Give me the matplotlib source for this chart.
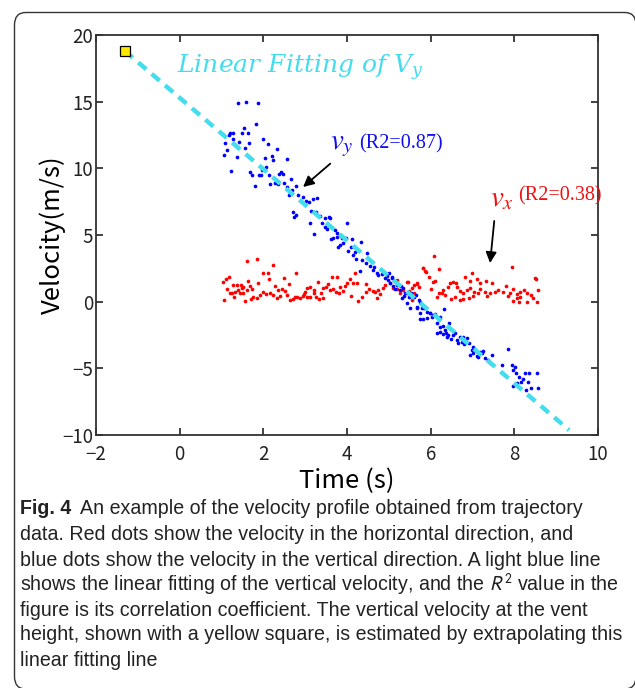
import matplotlib
matplotlib.use("Agg")
import matplotlib.pyplot as plt
from matplotlib.patches import FancyBboxPatch

# ---------------- data ----------------
vx_time = [1.04, 1.11, 1.17, 1.06, 1.20, 1.24, 1.28, 1.36, 1.46, 1.52, 1.40, 1.32, 1.44, 1.52, 1.60,
           1.72, 1.68, 1.56, 1.60, 1.84, 1.76, 1.70, 1.84, 1.92, 2.00, 2.06, 2.16, 2.24, 2.32, 2.40,
           2.36, 2.44, 2.52, 2.57, 2.64, 2.70, 2.76, 2.81, 2.88, 2.94, 3.04, 3.12, 3.00, 3.05, 3.12,
           3.20, 3.21, 3.26, 3.34, 3.42, 3.38, 3.43, 3.50, 3.55, 3.59, 3.67, 3.74, 3.82, 3.90, 3.95,
           4.01, 4.07, 4.15, 4.23, 4.27, 4.37, 4.45, 4.53, 4.61, 4.67, 4.71, 4.75, 4.85, 4.91, 5.03,
           5.11, 5.19, 5.27, 5.35, 5.43, 5.49, 5.59, 5.67, 5.71, 5.81, 2.24, 2.00, 2.10, 2.14, 2.78,
           2.50, 3.75, 3.65, 4.19, 1.14, 1.30, 1.48, 1.64, 1.88, 2.28, 2.62, 2.98, 3.30, 3.84, 4.10,
           4.46, 4.80, 5.20, 5.55, 6.08, 5.81, 5.90, 5.86, 6.21, 5.97, 6.06, 6.10, 5.47, 5.59, 5.55,
           5.67, 6.00, 6.21, 6.14, 6.26, 6.30, 6.35, 6.42, 6.46, 6.54, 6.61, 6.64, 6.70, 6.78, 6.88,
           6.94, 6.82, 6.98, 6.94, 7.10, 7.18, 7.32, 7.46, 7.04, 7.14, 7.18, 7.30, 7.35, 7.42, 7.54,
           6.49, 6.58, 6.70, 6.78, 6.92, 7.00, 7.72, 7.90, 7.98, 8.06, 8.14, 8.22, 8.30, 7.94, 8.49,
           8.57, 8.53, 8.44, 8.30, 8.14, 8.06, 7.86, 7.98, 8.12, 8.51, 7.62, 7.80, 8.40]
vx_vel = [1.47, 1.67, 1.87, 0.12, 0.62, 0.67, 1.22, 1.27, 1.27, 1.12, 0.87, 0.70, 0.62, 0.67, 0.87,
          0.97, 1.20, 0.02, 3.07, 3.22, 0.32, 0.17, 0.27, 0.50, 0.75, 0.57, 0.67, 0.50, 0.25, 0.42,
          0.87, 0.92, 0.82, 0.47, 0.12, 0.17, 0.32, 0.32, 0.25, 0.42, 0.32, 0.32, 0.75, 1.00, 1.12,
          0.87, 0.67, 0.37, 0.17, 0.25, 0.67, 1.00, 1.12, 1.32, 0.87, 0.92, 0.75, 0.62, 0.82, 1.17,
          1.37, 1.67, 1.37, 1.42, 0.07, 0.37, 0.75, 0.92, 0.82, 0.75, 0.25, 0.87, 1.00, 1.25, 1.42,
          1.00, 0.92, 0.67, 0.87, 1.50, 0.82, 0.67, 1.42, 1.12, 2.50, 2.75, 2.12, 2.12, 1.70, 2.12,
          1.75, 1.82, 1.82, 2.12, 0.95, 0.35, 1.05, 1.55, 1.40, 1.20, 1.35, 0.60, 1.45, 1.10, 0.45,
          1.30, 0.55, 1.60, 0.10, 3.42, 2.52, 2.25, 2.32, 2.47, 1.82, 1.47, 1.52, 1.50, 1.25, 1.00,
          1.32, 0.92, 0.67, 0.37, 0.62, 0.87, 0.47, 1.12, 1.42, 1.50, 1.37, 1.12, 0.82, 0.67, 0.87,
          1.00, 1.82, 2.17, 1.57, 1.67, 1.37, 1.52, 1.42, 0.75, 0.62, 0.92, 0.75, 0.42, 0.67, 0.75,
          0.17, 0.37, 0.12, 0.22, 0.25, 0.42, 0.75, 0.62, 0.92, 0.57, 0.75, 0.87, 0.67, 2.62, 1.75,
          0.87, 0.00, 0.25, 0.00, 0.37, 0.25, 0.42, 0.07, 0.00, 1.72, 0.90, 1.20, 0.50]

vy_time = [1.39, 1.59, 1.87, 1.82, 1.20, 1.27, 1.17, 1.53, 1.50, 1.63, 1.28, 1.09, 1.42, 1.66, 2.00,
           2.10, 1.12, 1.57, 2.33, 1.05, 1.36, 2.20, 2.03, 2.24, 2.57, 1.22, 2.06, 1.98, 1.68, 1.74,
           1.90, 1.95, 2.14, 2.43, 2.47, 2.38, 2.65, 1.79, 2.17, 2.29, 2.34, 2.50, 2.56, 2.78, 2.61,
           2.69, 2.84, 2.96, 3.02, 3.08, 3.18, 3.28, 2.70, 2.78, 2.73, 3.15, 3.25, 3.36, 3.47, 3.58,
           3.12, 3.40, 3.47, 3.51, 3.21, 3.61, 3.67, 3.77, 3.79, 3.75, 3.71, 3.59, 3.99, 3.87, 3.97,
           3.91, 3.84, 4.13, 4.33, 4.10, 4.02, 4.19, 4.15, 4.22, 4.49, 4.37, 4.45, 4.55, 4.65, 4.61,
           4.30, 4.71, 4.75, 4.83, 5.00, 4.91, 4.99, 5.07, 5.03, 5.11, 5.15, 5.29, 5.35, 5.27, 5.43,
           5.52, 5.49, 5.36, 5.31, 5.59, 5.65, 5.71, 5.75, 5.51, 5.68, 5.79, 5.87, 5.75, 5.91, 5.99,
           5.81, 5.92, 6.02, 6.10, 6.33, 6.14, 6.14, 6.22, 6.30, 6.37, 6.42, 6.29, 6.34, 6.38, 6.50,
           6.54, 6.58, 6.48, 6.62, 6.70, 6.74, 6.66, 6.78, 6.86, 6.80, 6.92, 6.98, 7.02, 6.94, 7.02,
           7.10, 7.18, 7.26, 7.14, 7.22, 7.30, 7.38, 7.46, 7.71, 7.86, 7.94, 8.02, 7.96, 8.04, 8.26,
           8.36, 8.53, 8.11, 8.21, 8.33, 7.96, 8.06, 8.29, 8.41, 8.57, 8.17, 4.95, 5.07, 5.19, 5.39,
           5.43, 5.67, 5.83, 5.98, 6.06, 6.22, 6.45, 6.22, 5.75]
vy_vel = [14.92, 14.97, 14.87, 13.32, 12.63, 12.63, 12.50, 13.02, 12.63, 12.67, 12.22, 11.87, 12.00, 11.92, 12.17,
          11.82, 11.37, 11.52, 11.47, 11.02, 10.85, 10.95, 10.77, 10.60, 10.72, 9.82, 10.10, 9.85, 9.70, 9.47,
          9.47, 9.50, 9.47, 9.72, 9.57, 9.57, 9.22, 8.67, 8.85, 8.92, 8.80, 8.92, 8.62, 8.70, 7.97,
          8.37, 8.02, 7.87, 7.57, 7.50, 7.67, 7.75, 6.70, 6.50, 6.37, 6.82, 6.70, 6.42, 6.25, 6.32,
          5.88, 5.92, 5.62, 5.42, 5.07, 4.67, 4.75, 4.87, 4.12, 5.12, 5.37, 6.25, 5.92, 4.75, 4.75,
          4.42, 4.25, 4.67, 4.47, 4.12, 3.80, 3.75, 3.50, 3.17, 3.67, 3.12, 2.92, 2.67, 2.57, 2.37,
          2.32, 2.17, 2.02, 2.07, 2.12, 1.80, 1.62, 1.75, 1.42, 1.17, 0.97, 1.17, 1.00, 0.87, 0.62,
          0.67, 0.37, 0.42, 0.25, 0.32, 0.50, 0.12, 0.00, -0.50, -0.50, -0.45, -0.50, -0.87, -0.75, -0.87,
          -1.32, -1.25, -1.12, -0.95, -0.57, -1.62, -2.32, -2.25, -2.42, -2.32, -2.50, -1.82, -2.12, -2.62, -2.12,
          -2.50, -2.32, -2.82, -2.87, -2.67, -3.00, -3.12, -2.62, -2.75, -3.20, -3.12, -3.62, -3.37, -4.00, -3.87,
          -4.05, -3.75, -3.67, -4.12, -3.87, -4.25, -4.37, -4.00, -4.77, -3.57, -4.75, -4.87, -5.12, -5.37, -5.32,
          -5.32, -5.32, -5.67, -5.82, -6.00, -6.30, -6.12, -6.62, -6.50, -6.50, -6.00, 1.92, 1.82, 1.25, 0.62,
          -0.13, -0.38, -0.50, -0.88, -1.00, -1.13, -1.58, -1.93, -1.33]

fit_time = [-1.31, 9.31]          # linear fitting of Vy (extrapolated)
fit_vel = [18.80, -9.63]
vent_time = [-1.31]               # yellow square: extrapolated velocity at vent height
vent_vel = [18.80]

xticks = [-2, 0, 2, 4, 6, 8, 10]
yticks = [-10, -5, 0, 5, 10, 15, 20]

caption_first = "An example of the velocity profile obtained from trajectory"
caption_lines = [
    "data. Red dots show the velocity in the horizontal direction, and",
    "blue dots show the velocity in the vertical direction. A light blue line",
    "shows the linear fitting of the vertical velocity, and the $R^2$ value in the",
    "figure is its correlation coefficient. The vertical velocity at the vent",
    "height, shown with a yellow square, is estimated by extrapolating this",
    "linear fitting line",
]

# ---------------- figure ----------------
W, H = 635, 688
plt.rcParams['lines.scale_dashes'] = False
fig = plt.figure(figsize=(W / 100, H / 100), dpi=100)

def fx(px):
    return px / W

def fy(py):
    return 1 - py / H

# rounded frame (partly cut by the image edges, as in the reference)
frame = FancyBboxPatch((fx(14.5), fy(689)), fx(636) - fx(14.5), fy(12.5) - fy(689),
                       boxstyle="round,pad=0,rounding_size=0.018", transform=fig.transFigure,
                       fill=False, edgecolor='#333333', linewidth=1.0)
fig.patches.append(frame)

ax = fig.add_axes([fx(96), fy(435), fx(598) - fx(96), fy(35) - fy(435)])
ax.set_xlim(-2, 10)
ax.set_ylim(-10, 20)

ax.scatter(vx_time, vx_vel, s=7, color='#ff0000', linewidths=0, zorder=3)
ax.scatter(vy_time, vy_vel, s=7, color='#0000ff', linewidths=0, zorder=3)
ax.plot(fit_time, fit_vel, color='#44ddee', linewidth=3.2, dashes=(7.5, 5.2),
        solid_capstyle='butt', dash_capstyle='butt', zorder=4)
ax.plot(vent_time, vent_vel, marker='s', markersize=7, markerfacecolor='#ffe800',
        markeredgecolor='black', markeredgewidth=0.9, linestyle='none', zorder=5, clip_on=False)

tickfont = ['Noto Sans CJK JP', 'DejaVu Sans']
ax.set_xticks(xticks)
ax.set_yticks(yticks)
ax.set_xticklabels([str(t).replace('-', '\u2212') for t in xticks], fontfamily=tickfont, fontsize=13.5)
ax.set_yticklabels([str(t).replace('-', '\u2212') for t in yticks], fontfamily=tickfont, fontsize=13.5)
ax.tick_params(direction='in', length=5, width=1.2, top=True, right=True, colors='#222222')
ax.tick_params(axis='x', pad=6.5)
ax.tick_params(axis='y', pad=2)
for s in ax.spines.values():
    s.set_linewidth(1.3)
    s.set_color('#333333')
ax.set_xlabel('Time (s)', fontfamily=tickfont, fontsize=18.5, labelpad=2)
ax.set_ylabel('Velocity(m/s)', fontfamily=tickfont, fontsize=18.5, labelpad=-3)

# annotations
ax.text(-0.07, 17.52, 'Linear Fitting of $V_y$', color='#44ddee', fontsize=18,
        fontfamily='DejaVu Serif', fontstyle='italic', math_fontfamily='dejavuserif',
        ha='left', va='center')

t_vy = ax.text(3.59, 11.75, '$v_y$', color='#1010ee', fontsize=21, math_fontfamily='stix',
               ha='left', va='center')
ax.annotate('(R2=0.87)', xy=(1, 0.5), xycoords=t_vy, xytext=(4, 1), textcoords='offset points',
            color='#1010ee', fontsize=14.5, fontfamily='Liberation Serif', ha='left', va='center')

t_vx = ax.text(7.42, 7.80, '$v_x$', color='#ee1111', fontsize=21, math_fontfamily='stix',
               ha='left', va='center')
ax.annotate('(R2=0.38)', xy=(1, 0.5), xycoords=t_vx, xytext=(3, 1), textcoords='offset points',
            color='#ee1111', fontsize=14.5, fontfamily='Liberation Serif', ha='left', va='center')

arrowprops = dict(arrowstyle='-|>', color='black', lw=1.3, mutation_scale=16, shrinkA=0, shrinkB=0)
ax.annotate('', xy=(2.95, 8.60), xytext=(3.60, 10.35), arrowprops=arrowprops)
ax.annotate('', xy=(7.42, 2.90), xytext=(7.52, 6.05), arrowprops=arrowprops)

# caption
capfont = ['Liberation Sans Narrow', 'Liberation Sans', 'DejaVu Sans']
capsize = 14.1
line_y = [509, 535, 560, 585, 610, 635, 660]
tb = fig.text(fx(20), fy(line_y[0]), 'Fig. 4', fontfamily=capfont, fontweight='bold',
              fontsize=capsize, ha='left', va='center', color='#222222')
ax.annotate(caption_first, xy=(1, 0.5), xycoords=tb, xytext=(6, 0), textcoords='offset points',
            fontfamily=capfont, fontsize=capsize, ha='left', va='center', color='#222222',
            annotation_clip=False)
for ln, yy in zip(caption_lines, line_y[1:]):
    fig.text(fx(20), fy(yy), ln, fontfamily=capfont, fontsize=capsize, ha='left', va='center',
             color='#222222', math_fontfamily='stixsans')

fig.savefig('out.png', dpi=100)
